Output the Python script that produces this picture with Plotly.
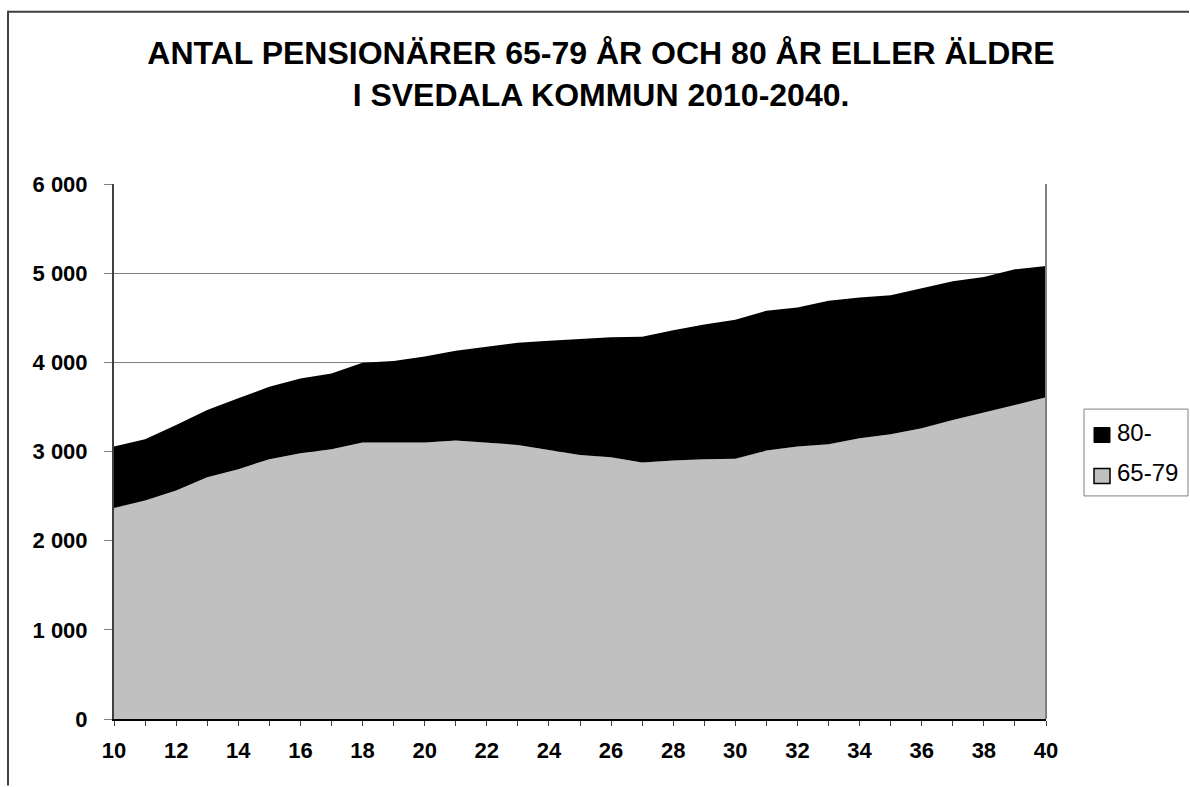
import plotly.graph_objects as go

# ---- data ----
years = list(range(10, 41))
age_65_79 = [2365, 2451, 2563, 2712, 2802, 2914, 2981, 3026, 3100, 3100, 3100,
             3122, 3100, 3074, 3018, 2962, 2936, 2876, 2898, 2914, 2920,
             3010, 3055, 3081, 3149, 3193, 3261, 3354, 3436, 3522, 3608]
age_80_plus = [690, 687, 735, 754, 794, 813, 839, 850, 896, 914, 965,
               1008, 1075, 1145, 1224, 1302, 1344, 1411, 1463, 1511, 1557,
               1568, 1560, 1609, 1578, 1560, 1567, 1556, 1522, 1522, 1473]
series_names = ["65-79", "80-"]
series_colors = ["#C0C0C0", "#000000"]
y_tickvals = [0, 1000, 2000, 3000, 4000, 5000, 6000]
y_ticktext = ["0", "1 000", "2 000", "3 000", "4 000", "5 000", "6 000"]
x_tickvals = years
x_ticktext = [str(y) if y % 2 == 0 else "" for y in years]
title_text = "ANTAL PENSIONÄRER 65-79 ÅR OCH 80 ÅR ELLER ÄLDRE<br>I SVEDALA KOMMUN 2010-2040."

W, H = 1190, 787
L, R, T, B = 114, 1046, 183.5, 719.5

FONT = "Liberation Sans, Arial, sans-serif"

fig = go.Figure()
for vals, name, col in zip([age_65_79, age_80_plus], series_names, series_colors):
    fig.add_trace(go.Scatter(x=years, y=vals, name=name, stackgroup="one",
                             mode="lines", line=dict(width=0, color=col),
                             fillcolor=col, showlegend=False))

pw = R - L
ph = B - T

def px_x(x):
    return (x - L) / pw

def px_y(y):
    return (B - y) / ph

fig.update_layout(
    width=W, height=H,
    margin=dict(l=L, r=W - R, t=T, b=H - B, pad=0),
    paper_bgcolor="white", plot_bgcolor="white",
    font=dict(family=FONT, color="black"),
    title=dict(text=title_text, x=601 / W, xanchor="center",
               y=1 - 64 / H, yanchor="top", yref="container",
               font=dict(family=FONT, size=32, weight="bold", color="black")),
    xaxis=dict(range=[10, 40], tickmode="array", tickvals=x_tickvals,
               ticktext=x_ticktext, ticks="outside", ticklen=5, tickwidth=1,
               tickcolor="#404040", showline=True, linecolor="black",
               linewidth=2, showgrid=False, zeroline=False,
               ticklabelstandoff=6,
               tickfont=dict(family=FONT, size=22, weight="bold", color="black"),
               fixedrange=True),
    yaxis=dict(range=[0, 6000], tickmode="array", tickvals=y_tickvals,
               ticktext=y_ticktext, ticks="outside", ticklen=8, tickwidth=1,
               tickcolor="#808080", showline=True, linecolor="#404040",
               linewidth=2, showgrid=True, gridcolor="#808080", gridwidth=1,
               zeroline=False, ticklabelstandoff=12,
               tickfont=dict(family=FONT, size=22, weight="bold", color="black"),
               fixedrange=True),
    showlegend=False,
)

# outer chart border (top and left edges visible in reference) and plot right border
fig.add_shape(type="line", xref="paper", yref="paper",
              x0=px_x(8), x1=px_x(W - 1), y0=px_y(11), y1=px_y(11),
              line=dict(color="#404040", width=2))
fig.add_shape(type="line", xref="paper", yref="paper",
              x0=px_x(8), x1=px_x(8), y0=px_y(10), y1=px_y(H - 1),
              line=dict(color="#404040", width=2))
fig.add_shape(type="line", xref="paper", yref="paper",
              x0=1, x1=1, y0=0, y1=1,
              line=dict(color="#808080", width=2))

# legend box (drawn manually so it does not push the plot margin)
fig.add_shape(type="rect", xref="paper", yref="paper",
              x0=px_x(1084), x1=px_x(1188), y0=px_y(409), y1=px_y(496),
              line=dict(color="#808080", width=1), fillcolor="white")
legend_rows = [("80-", "#000000", 1, 435), ("65-79", "#C0C0C0", 1.5, 476)]
for name, col, lw, cy in legend_rows:
    fig.add_shape(type="rect", xref="paper", yref="paper",
                  x0=px_x(1094), x1=px_x(1110), y0=px_y(cy + 7.5), y1=px_y(cy - 7.5),
                  line=dict(color="#000000", width=lw), fillcolor=col)
    fig.add_annotation(xref="paper", yref="paper", x=px_x(1115), y=px_y(cy - 3),
                       xanchor="left", yanchor="middle", text=name, showarrow=False,
                       font=dict(family=FONT, size=24, color="black"))

fig.write_html("out.html", config={"displayModeBar": False},
               post_script="document.body.style.margin='0';document.body.style.overflow='hidden';")
